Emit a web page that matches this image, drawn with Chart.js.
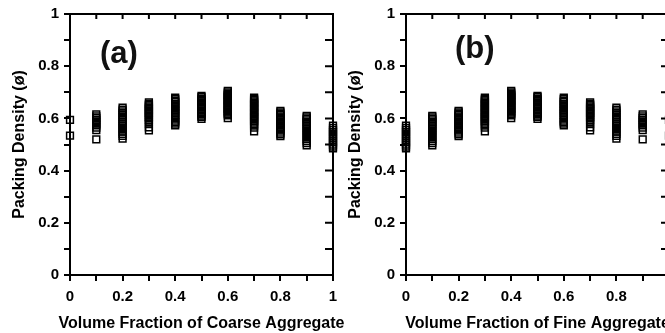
<!DOCTYPE html>
<html>
<head>
<meta charset="utf-8">
<script src="https://cdn.jsdelivr.net/npm/chart.js@4/dist/chart.umd.min.js"></script>
<style>
  html, body { margin: 0; padding: 0; background: #fff; width: 665px; height: 333px; overflow: hidden; }
  canvas { position: absolute; top: 0; }
  #chartA { left: 0; }
  #chartB { left: 336px; }
</style>
</head>
<body>
<canvas id="chartA" width="346" height="333"></canvas>
<canvas id="chartB" width="346" height="333"></canvas>
<script>
// volume fraction on the x axis
const fractions = [0, 0.1, 0.2, 0.3, 0.4, 0.5, 0.6, 0.7, 0.8, 0.9, 1];

// packing density, one list per coarse aggregate fraction
const densityCoarse = [
    [0.594, 0.534],
    [0.615, 0.608, 0.601, 0.594, 0.587, 0.580, 0.573, 0.565, 0.555, 0.520],
    [0.641, 0.634, 0.627, 0.620, 0.613, 0.606, 0.599, 0.592, 0.585, 0.578, 0.571, 0.564, 0.557, 0.549, 0.541, 0.533, 0.523],
    [0.661, 0.656, 0.651, 0.646, 0.641, 0.636, 0.631, 0.626, 0.621, 0.616, 0.611, 0.606, 0.600, 0.594, 0.586, 0.578, 0.566, 0.554],
    [0.680, 0.674, 0.668, 0.662, 0.656, 0.650, 0.644, 0.638, 0.632, 0.626, 0.620, 0.614, 0.608, 0.600, 0.592, 0.586, 0.580, 0.573],
    [0.686, 0.681, 0.676, 0.671, 0.666, 0.661, 0.656, 0.651, 0.646, 0.641, 0.636, 0.631, 0.626, 0.621, 0.616, 0.611, 0.606, 0.598],
    [0.705, 0.700, 0.695, 0.690, 0.686, 0.681, 0.676, 0.671, 0.667, 0.662, 0.657, 0.652, 0.647, 0.642, 0.637, 0.632, 0.627, 0.622, 0.617, 0.612, 0.601],
    [0.680, 0.675, 0.670, 0.665, 0.660, 0.655, 0.650, 0.645, 0.640, 0.635, 0.630, 0.625, 0.620, 0.615, 0.610, 0.605, 0.600, 0.595, 0.590, 0.584, 0.578, 0.572, 0.565, 0.550],
    [0.629, 0.623, 0.618, 0.613, 0.608, 0.603, 0.598, 0.593, 0.588, 0.583, 0.578, 0.573, 0.568, 0.563, 0.558, 0.553, 0.546, 0.539, 0.532],
    [0.610, 0.604, 0.598, 0.592, 0.586, 0.580, 0.573, 0.566, 0.559, 0.552, 0.545, 0.537, 0.529, 0.521, 0.513, 0.505, 0.497],
    [0.572, 0.564, 0.556, 0.548, 0.540, 0.532, 0.524, 0.516, 0.508, 0.500, 0.492, 0.485]
];

// packing density, one list per fine aggregate fraction
const densityFine = [
    [0.572, 0.564, 0.556, 0.548, 0.540, 0.532, 0.524, 0.516, 0.508, 0.500, 0.492, 0.485],
    [0.610, 0.604, 0.598, 0.592, 0.586, 0.580, 0.573, 0.566, 0.559, 0.552, 0.545, 0.537, 0.529, 0.521, 0.513, 0.505, 0.497],
    [0.629, 0.623, 0.618, 0.613, 0.608, 0.603, 0.598, 0.593, 0.588, 0.583, 0.578, 0.573, 0.568, 0.563, 0.558, 0.553, 0.546, 0.539, 0.532],
    [0.680, 0.675, 0.670, 0.665, 0.660, 0.655, 0.650, 0.645, 0.640, 0.635, 0.630, 0.625, 0.620, 0.615, 0.610, 0.605, 0.600, 0.595, 0.590, 0.584, 0.578, 0.572, 0.565, 0.550],
    [0.705, 0.700, 0.695, 0.690, 0.686, 0.681, 0.676, 0.671, 0.667, 0.662, 0.657, 0.652, 0.647, 0.642, 0.637, 0.632, 0.627, 0.622, 0.617, 0.612, 0.601],
    [0.686, 0.681, 0.676, 0.671, 0.666, 0.661, 0.656, 0.651, 0.646, 0.641, 0.636, 0.631, 0.626, 0.621, 0.616, 0.611, 0.606, 0.598],
    [0.680, 0.674, 0.668, 0.662, 0.656, 0.650, 0.644, 0.638, 0.632, 0.626, 0.620, 0.614, 0.608, 0.600, 0.592, 0.586, 0.580, 0.573],
    [0.661, 0.656, 0.651, 0.646, 0.641, 0.636, 0.631, 0.626, 0.621, 0.616, 0.611, 0.606, 0.600, 0.594, 0.586, 0.578, 0.566, 0.554],
    [0.641, 0.634, 0.627, 0.620, 0.613, 0.606, 0.599, 0.592, 0.585, 0.578, 0.571, 0.564, 0.557, 0.549, 0.541, 0.533, 0.523],
    [0.615, 0.608, 0.601, 0.594, 0.587, 0.580, 0.573, 0.565, 0.555, 0.520],
    [0.594, 0.534]
];

const tickValues = [0, 0.1, 0.2, 0.3, 0.4, 0.5, 0.6, 0.7, 0.8, 0.9, 1];

const FONT = "'Liberation Sans', Arial, sans-serif";

function toPoints(xs, cols) {
    const pts = [];
    xs.forEach((x, i) => {
        cols[i].forEach(y => pts.push({ x: x, y: y }));
    });
    return pts;
}

function tickLabel(v) {
    const k = Math.round(v * 10);
    return k % 2 === 0 ? String(k / 10) : '';
}

// top and right frame with inward ticks, the x title (not squeezed to the
// axis width like the built-in one) and the panel letter
const framePlugin = {
    id: 'frame',
    afterDraw(chart, args, opts) {
        const { ctx, chartArea: a, scales: { x, y } } = chart;
        ctx.save();
        ctx.strokeStyle = '#000';
        ctx.lineWidth = 2;
        ctx.beginPath();
        ctx.moveTo(a.left - 1, a.top);
        ctx.lineTo(a.right, a.top);
        ctx.lineTo(a.right, a.bottom + 1);
        tickValues.forEach(v => {
            const px = x.getPixelForValue(v);
            ctx.moveTo(px, a.top);
            ctx.lineTo(px, a.top + 5);
            const py = y.getPixelForValue(v);
            ctx.moveTo(a.right, py);
            ctx.lineTo(a.right - 8, py);
        });
        ctx.stroke();

        ctx.fillStyle = '#000';
        ctx.font = 'bold 16px ' + FONT;
        ctx.textAlign = 'center';
        ctx.textBaseline = 'middle';
        ctx.fillText(opts.xTitle, (a.left + a.right) / 2, x.bottom - 9);

        ctx.fillStyle = '#111';
        ctx.font = 'bold 31px ' + FONT;
        ctx.textAlign = 'left';
        ctx.fillText(opts.text, x.getPixelForValue(opts.x), y.getPixelForValue(opts.y));
        ctx.restore();
    }
};

function makeChart(id, cols, xTitle, label) {
    const tickFont = { family: FONT, size: 15, weight: 'bold' };
    return new Chart(document.getElementById(id).getContext('2d'), {
        type: 'scatter',
        data: {
            datasets: [{
                data: toPoints(fractions, cols),
                pointStyle: 'rect',
                pointRadius: 4.8,
                pointBorderWidth: 1.5,
                borderColor: '#000',
                backgroundColor: 'rgba(0,0,0,0)',
                clip: false
            }]
        },
        plugins: [framePlugin],
        options: {
            responsive: false,
            animation: false,
            layout: { padding: { left: 0, top: 13, right: 13, bottom: 0 } },
            plugins: {
                legend: { display: false },
                tooltip: { enabled: false },
                frame: Object.assign({ xTitle: xTitle }, label)
            },
            scales: {
                x: {
                    type: 'linear',
                    min: 0,
                    max: 1,
                    afterFit: (s) => { s.height = 58; },
                    border: { color: '#000', width: 2 },
                    grid: { drawOnChartArea: false, drawTicks: true, tickLength: 6, lineWidth: 2, color: '#000' },
                    ticks: { stepSize: 0.1, autoSkip: false, maxRotation: 0, padding: 7, color: '#000', font: tickFont, callback: tickLabel }
                },
                y: {
                    min: 0,
                    max: 1,
                    afterFit: (s) => { s.width = 70; },
                    border: { color: '#000', width: 2 },
                    grid: { drawOnChartArea: false, drawTicks: true, tickLength: 6, lineWidth: 2, color: '#000' },
                    ticks: { stepSize: 0.1, autoSkip: false, padding: 5, color: '#000', font: tickFont, callback: tickLabel },
                    title: { display: true, text: 'Packing Density (\u00f8)', color: '#000', font: { family: FONT, size: 16, weight: 'bold' }, padding: { top: 10, bottom: 0 } }
                }
            }
        }
    });
}

makeChart('chartA', densityCoarse, 'Volume Fraction of Coarse Aggregate', { text: '(a)', x: 0.114, y: 0.845 });
makeChart('chartB', densityFine, 'Volume Fraction of Fine Aggregate', { text: '(b)', x: 0.186, y: 0.866 });
</script>
</body>
</html>
